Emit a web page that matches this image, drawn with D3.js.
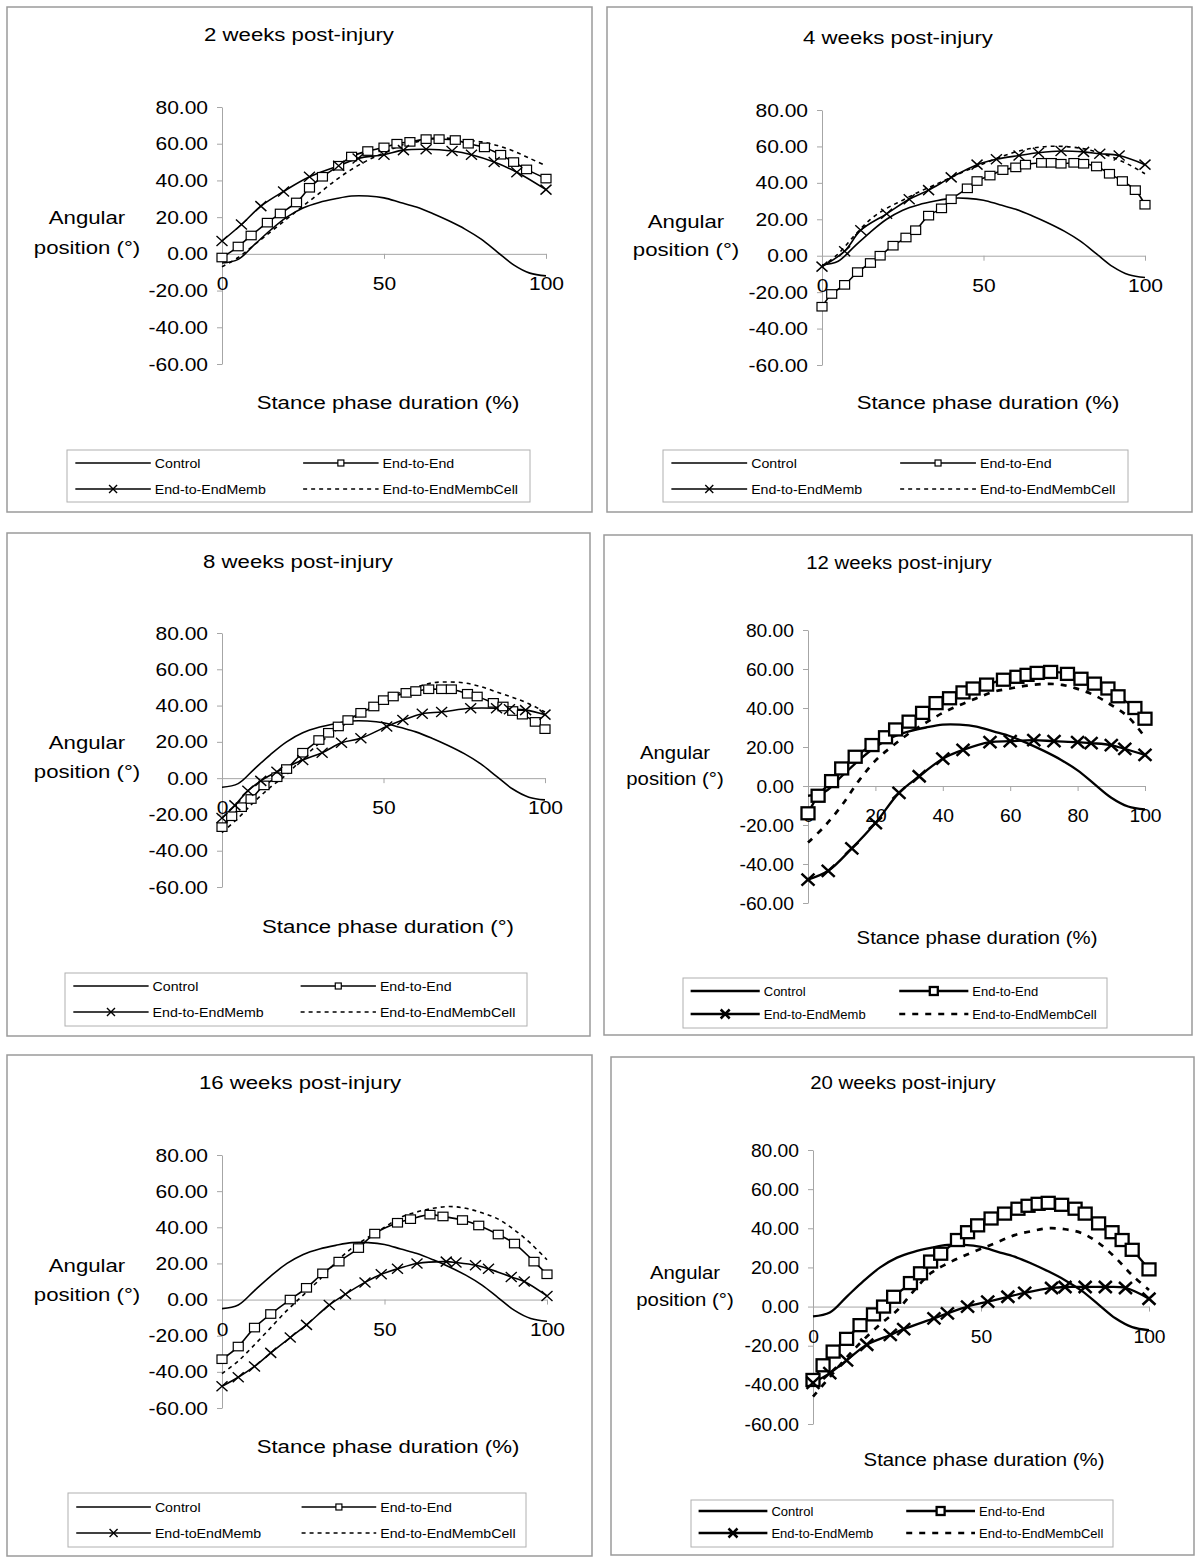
<!DOCTYPE html>
<html><head><meta charset="utf-8">
<script src="https://cdn.jsdelivr.net/npm/d3@7"></script>
<style>body{margin:0;background:#fff}svg{display:block}</style>
</head><body>
<svg id="chart" width="1200" height="1567"></svg>
<script>
// ---------------- DATA ----------------
const panelTitles = ["2 weeks post-injury","4 weeks post-injury","8 weeks post-injury","12 weeks post-injury","16 weeks post-injury","20 weeks post-injury"];
const xAxisTitles = ["Stance phase duration (%)","Stance phase duration (%)","Stance phase duration (\u00b0)","Stance phase duration (%)","Stance phase duration (%)","Stance phase duration (%)"];
const yAxisTitle = ["Angular","position (\u00b0)"];
const seriesNames = ["Control","End-to-End","End-to-EndMemb","End-to-EndMembCell"];
const seriesNames16 = ["Control","End-to-End","End-toEndMemb","End-to-EndMembCell"];
const yTickValues = [80,60,40,20,0,-20,-40,-60];
const xTicksCoarse = [0,50,100];
const xTicksFine = [0,20,40,60,80,100];

// shared stance-phase grid (%) for Control and End-to-EndMembCell
const grid = [0,5,10,15,20,25,30,35,40,45,50,55,60,65,70,75,80,85,90,95,100];
const control = [-5,-3,5,13,20,25,28,30,31.5,31.5,30.5,28,25.5,22,18,13.5,8,1,-6,-10.5,-12];

// 2 weeks
const w2_e2e_x = [0,5,9,14,18,23,27,31,36,40,45,50,54,58,63,67,72,76,81,86,90,94,100];
const w2_e2e_y = [-2,4,10,17,22,28,36,42,48,53,56,58,60,61,62.5,62.5,62,60,58,54,50,46,41];
const w2_memb_x = [0,6,12,19,27,36,42,50,56,63,71,77,84,91,100];
const w2_memb_y = [7,16,26,34,42,48,52,54,56.5,57,56,54,50,44.5,35];
const w2_cell_y = [-7,-2,5,12,19,26,33,40,46,51,55,59,61,63,63,62,61,59,56,52,48];

// 4 weeks
const w4_e2e_x = [0,3,7,11,15,18,22,26,29,33,37,40,45,48,52,56,60,63,68,71,74,78,81,85,89,93,97,100];
const w4_e2e_y = [-28,-21,-16,-9,-4,0,5.5,10,14,22,26,31,37,41,44,47,48.5,50,51,51,50.5,51,50.5,49,45,41,36,28];
const w4_memb_x = [0,7,12,20,27,33,40,48,54,61,67,74,81,86,92,100];
const w4_memb_y = [-6,2.5,14,23,31,36,43,50,53,55,56.5,57.5,57,56,55,50];
const w4_cell_y = [-6,1,11,20,26,30.5,35,39,43,47,50.5,54,57,59,60,60,59,57,54,50,45];

// 8 weeks
const w8_e2e_x = [0,3,6,9,13,17,20,25,30,33,36,39,43,47,50,53,57,60,64,68,71,76,79,84,87,90,93,97,100];
const w8_e2e_y = [-27,-21,-16,-11.5,-4,0.5,5,14,21,25,28.5,32,36,39.5,43,45,47,48,49,49,49,46.5,45,41.5,39.5,37,35,31,27];
const w8_memb_x = [0,4,8,12,17,25,31,37,43,51,56,62,68,77,85,89,94,100];
const w8_memb_y = [-22,-15,-7,-1.5,3.5,10,14,19.5,22,28.5,32,35.5,36.5,38.5,38.5,38,37.5,35];
const w8_cell_y = [-30,-22,-13,-5,2,11,19,26,32,38,43,47,50,52.5,53,52.5,50.5,47.5,44.5,41,36.5];

// 12 weeks
const w12_e2e_x = [0,3,7,10,14,19,23,26,30,34,38,42,46,49,53,58,62,65,68,72,77,81,85,89,92,97,100];
const w12_e2e_y = [-14,-5,2.5,9,15,21,25,29,33,37.5,42.5,45,48,50,52,54.5,56,57,58,58.5,57.5,55,52.5,50,46,40,34.5];
const w12_memb_x = [0,6,13,20,27,33,40,46,54,60,67,73,80,84,90,94,100];
const w12_memb_y = [-48,-43.5,-32,-19,-3.5,5,14,18.5,22.5,23,23.5,23,22.5,22,21,19,16];
const w12_cell_y = [-29,-20.5,-10,2.5,13,20.4,27,32.5,37.5,41.5,45,48.3,50,51.5,52.3,52,49.8,46.5,41.5,35.5,25];

// 16 weeks
const w16_e2e_x = [0,5,10,15,21,26,31,36,42,47,54,58,64,68,74,79,85,90,96,100];
const w16_e2e_y = [-33,-26,-15.5,-8,0,6.5,14.5,21,28.5,36.5,42.5,44.5,47,46,44,41,36,31,21,14];
const w16_memb_x = [0,5,10,15,21,26,33,38,44,49,54,60,69,72,78,82,89,93,100];
const w16_memb_y = [-48,-43,-37,-29.5,-21,-14,-3,3,9.5,14,17,20,21,20.5,19,17,12.5,10,2];
const w16_cell_y = [-41,-34,-25,-15.5,-6,2.5,11,20.6,28.5,34.5,40,45.5,48.5,50.5,51.5,50.5,48,44.5,38.5,31,22];

// 20 weeks
const w20_e2e_x = [0,3,6,10,14,18,21,24,29,32,35,38,43,46,49,53,57,61,64,67,70,74,78,81,85,89,92,95,100];
const w20_e2e_y = [-37.5,-30,-23,-16.5,-9.5,-4,0,5,12,17,23,27,34,38,41.5,45,47.5,50,51.5,52.5,53,52,50,47.5,42.5,38,34,29,19];
const w20_memb_x = [0,5,10,16,23,27,36,40,46,52,58,63,71,75,81,87,93,100];
const w20_memb_y = [-39,-34,-27.5,-19.5,-14.5,-11.5,-6,-3.5,0,2.5,5,7,9.5,10,10,10,9.5,4];
const w20_cell_y = [-46,-36,-26,-17,-9,-2,8,17,22,26,29.5,33,36.5,38.5,40,39.5,37.5,32.5,25,16,8.5];

// ---------------- LAYOUT / STYLE ----------------
const FONT = "'Liberation Sans', Arial, Helvetica, sans-serif";
const AXIS_COLOR = "#a6a6a6";
const thin = {lw:1.6, sqW:10, sqH:8.5, sqS:1.2, xW:11, xH:10, xS:1.4, dash:"4,4", dashW:1.6, sx:1.2, tick:17.5, lgFont:13.5, lgSx:1.05, lgSq:6, lgX:8};
const thick = {lw:2.3, sqW:13, sqH:12, sqS:2.3, xW:13, xH:12, xS:2.5, dash:"6,7", dashW:2.7, sx:1.1, tick:17.5, lgFont:13, lgSx:1.0, lgSq:8, lgX:9};

const layouts = [
  {box:[7,7,592,512], ax0:222, ax100:546, yTop:107, yBot:364, title:[299,35], ang:[87,218,248], xt:[388,403], lg:[67,450,530,502], rows:[463,489], xticks:xTicksCoarse, st:thin},
  {box:[607,7,1192,512], ax0:822, ax100:1145, yTop:110, yBot:365, title:[898,38], ang:[686,222,250], xt:[988,403], lg:[663,450,1128,502], rows:[463,489], xticks:xTicksCoarse, st:thin},
  {box:[7,533,590,1036], ax0:222, ax100:545, yTop:633, yBot:887, title:[298,562], ang:[87,743,772], xt:[388,927], lg:[65,973,527,1026], rows:[986,1012], xticks:xTicksCoarse, st:thin},
  {box:[604,535,1192,1035], ax0:808, ax100:1145, yTop:630, yBot:903, title:[899,563], ang:[675,753,779], xt:[977,938], lg:[683,978,1107,1028], rows:[991,1014], xticks:xTicksFine, st:thick},
  {box:[7,1055,592,1556], ax0:222, ax100:547, yTop:1155, yBot:1408, title:[300,1083], ang:[87,1266,1295], xt:[388,1447], lg:[68,1493,526,1547], rows:[1507,1533], xticks:xTicksCoarse, st:thin},
  {box:[611,1057,1194,1555], ax0:813, ax100:1149, yTop:1150, yBot:1424, title:[903,1083], ang:[685,1273,1300], xt:[984,1460], lg:[691,1500,1113,1547], rows:[1511,1533], xticks:xTicksCoarse, st:thick}
];

const panelData = [
  {e2e:[w2_e2e_x,w2_e2e_y], memb:[w2_memb_x,w2_memb_y], cell:w2_cell_y, names:seriesNames},
  {e2e:[w4_e2e_x,w4_e2e_y], memb:[w4_memb_x,w4_memb_y], cell:w4_cell_y, names:seriesNames},
  {e2e:[w8_e2e_x,w8_e2e_y], memb:[w8_memb_x,w8_memb_y], cell:w8_cell_y, names:seriesNames},
  {e2e:[w12_e2e_x,w12_e2e_y], memb:[w12_memb_x,w12_memb_y], cell:w12_cell_y, names:seriesNames},
  {e2e:[w16_e2e_x,w16_e2e_y], memb:[w16_memb_x,w16_memb_y], cell:w16_cell_y, names:seriesNames16},
  {e2e:[w20_e2e_x,w20_e2e_y], memb:[w20_memb_x,w20_memb_y], cell:w20_cell_y, names:seriesNames}
];

const svg = d3.select("#chart");
svg.append("rect").attr("width",1200).attr("height",1567).attr("fill","#fff");

function sText(g, x, y, str, size, sx, anchor){
  return g.append("text")
    .attr("transform", `translate(${x},${y}) scale(${sx},1)`)
    .attr("text-anchor", anchor).attr("dy","0.35em")
    .attr("font-family", FONT).attr("font-size", size).attr("fill","#000")
    .text(str);
}
function zip(xs, ys){ return xs.map((v,i)=>({x:v, y:ys[i]})); }

function drawSquare(g, cx, cy, w, h, sw){
  g.append("rect").attr("x",cx-w/2).attr("y",cy-h/2).attr("width",w).attr("height",h)
    .attr("fill","#fff").attr("stroke","#000").attr("stroke-width",sw);
}
function drawX(g, cx, cy, w, h, sw){
  g.append("path").attr("d",`M${cx-w/2},${cy-h/2}L${cx+w/2},${cy+h/2}M${cx-w/2},${cy+h/2}L${cx+w/2},${cy-h/2}`)
    .attr("stroke","#000").attr("stroke-width",sw).attr("fill","none");
}

layouts.forEach((L, i) => {
  const D = panelData[i], st = L.st;
  const g = svg.append("g");
  // panel border
  g.append("rect").attr("x",L.box[0]).attr("y",L.box[1])
    .attr("width",L.box[2]-L.box[0]).attr("height",L.box[3]-L.box[1])
    .attr("fill","#fff").attr("stroke","#9a9a9a").attr("stroke-width",1.5);

  const x = d3.scaleLinear().domain([0,100]).range([L.ax0, L.ax100]);
  const y = d3.scaleLinear().domain([-60,80]).range([L.yBot, L.yTop]);

  // title
  sText(g, L.title[0], L.title[1], panelTitles[i], 18.5, st.sx, "middle");
  // y axis title
  sText(g, L.ang[0], L.ang[1], yAxisTitle[0], 18.5, st.sx, "middle");
  sText(g, L.ang[0], L.ang[2], yAxisTitle[1], 18.5, st.sx, "middle");
  // x axis title
  sText(g, L.xt[0], L.xt[1], xAxisTitles[i], 18.5, st.sx, "middle");

  // y axis
  const yAx = g.append("g").attr("transform",`translate(${L.ax0},0)`)
    .call(d3.axisLeft(y).tickValues(yTickValues).tickSize(5).tickSizeOuter(0).tickFormat(d => d.toFixed(2)));
  yAx.select(".domain").attr("stroke",AXIS_COLOR);
  yAx.selectAll(".tick line").attr("stroke",AXIS_COLOR);
  yAx.selectAll(".tick text").attr("font-family",FONT).attr("font-size",st.tick).attr("fill","#000")
    .attr("x", -14/st.sx).attr("dy","0.35em").attr("transform",`scale(${st.sx},1)`);

  // x axis at y = 0
  const xAx = g.append("g").attr("transform",`translate(0,${y(0)})`)
    .call(d3.axisBottom(x).tickValues(L.xticks).tickSize(5).tickSizeOuter(0).tickFormat(d => String(d)));
  xAx.select(".domain").attr("stroke",AXIS_COLOR);
  xAx.selectAll(".tick line").attr("stroke",AXIS_COLOR);
  xAx.selectAll(".tick text").attr("font-family",FONT).attr("font-size",st.tick).attr("fill","#000")
    .attr("y", 30).attr("dy","0.35em").attr("transform",`scale(${st.sx},1)`);

  const line = d3.line().x(d => x(d.x)).y(d => y(d.y)).curve(d3.curveCatmullRom.alpha(0.5));

  const ctrl = zip(grid, control);
  const e2e = zip(D.e2e[0], D.e2e[1]);
  const memb = zip(D.memb[0], D.memb[1]);
  const cell = zip(grid, D.cell);

  g.append("path").attr("d", line(ctrl)).attr("fill","none").attr("stroke","#000").attr("stroke-width",st.lw);
  g.append("path").attr("d", line(e2e)).attr("fill","none").attr("stroke","#000").attr("stroke-width",st.lw);
  g.append("path").attr("d", line(memb)).attr("fill","none").attr("stroke","#000").attr("stroke-width",st.lw);
  g.append("path").attr("d", line(cell)).attr("fill","none").attr("stroke","#000").attr("stroke-width",st.dashW).attr("stroke-dasharray",st.dash);

  const mg = g.append("g");
  e2e.forEach(d => drawSquare(mg, x(d.x), y(d.y), st.sqW, st.sqH, st.sqS));
  memb.forEach(d => drawX(mg, x(d.x), y(d.y), st.xW, st.xH, st.xS));

  // legend
  const [lx0, ly0, lx1, ly1] = L.lg;
  const lw = lx1 - lx0;
  g.append("rect").attr("x",lx0).attr("y",ly0).attr("width",lw).attr("height",ly1-ly0)
    .attr("fill","#fff").attr("stroke","#b0b0b0").attr("stroke-width",1);
  const cols = [lx0 + 0.018*lw, lx0 + 0.51*lw];
  const lineLen = 0.163*lw;
  const items = [
    {c:0, r:0, name:D.names[0], type:"line"},
    {c:1, r:0, name:D.names[1], type:"sq"},
    {c:0, r:1, name:D.names[2], type:"x"},
    {c:1, r:1, name:D.names[3], type:"dash"}
  ];
  items.forEach(it => {
    const sx0 = cols[it.c], yy = L.rows[it.r];
    const p = g.append("line").attr("x1",sx0).attr("x2",sx0+lineLen).attr("y1",yy).attr("y2",yy)
      .attr("stroke","#000").attr("stroke-width", it.type==="dash" ? st.dashW : st.lw);
    if (it.type==="dash") p.attr("stroke-dasharray", st.dash);
    if (it.type==="sq") drawSquare(g, sx0+lineLen/2, yy, st.lgSq, st.lgSq, st.sqS);
    if (it.type==="x") drawX(g, sx0+lineLen/2, yy, st.lgX, st.lgX, st.xS);
    sText(g, sx0+lineLen+4, yy, it.name, st.lgFont, st.lgSx, "start");
  });
});
</script>
</body></html>
